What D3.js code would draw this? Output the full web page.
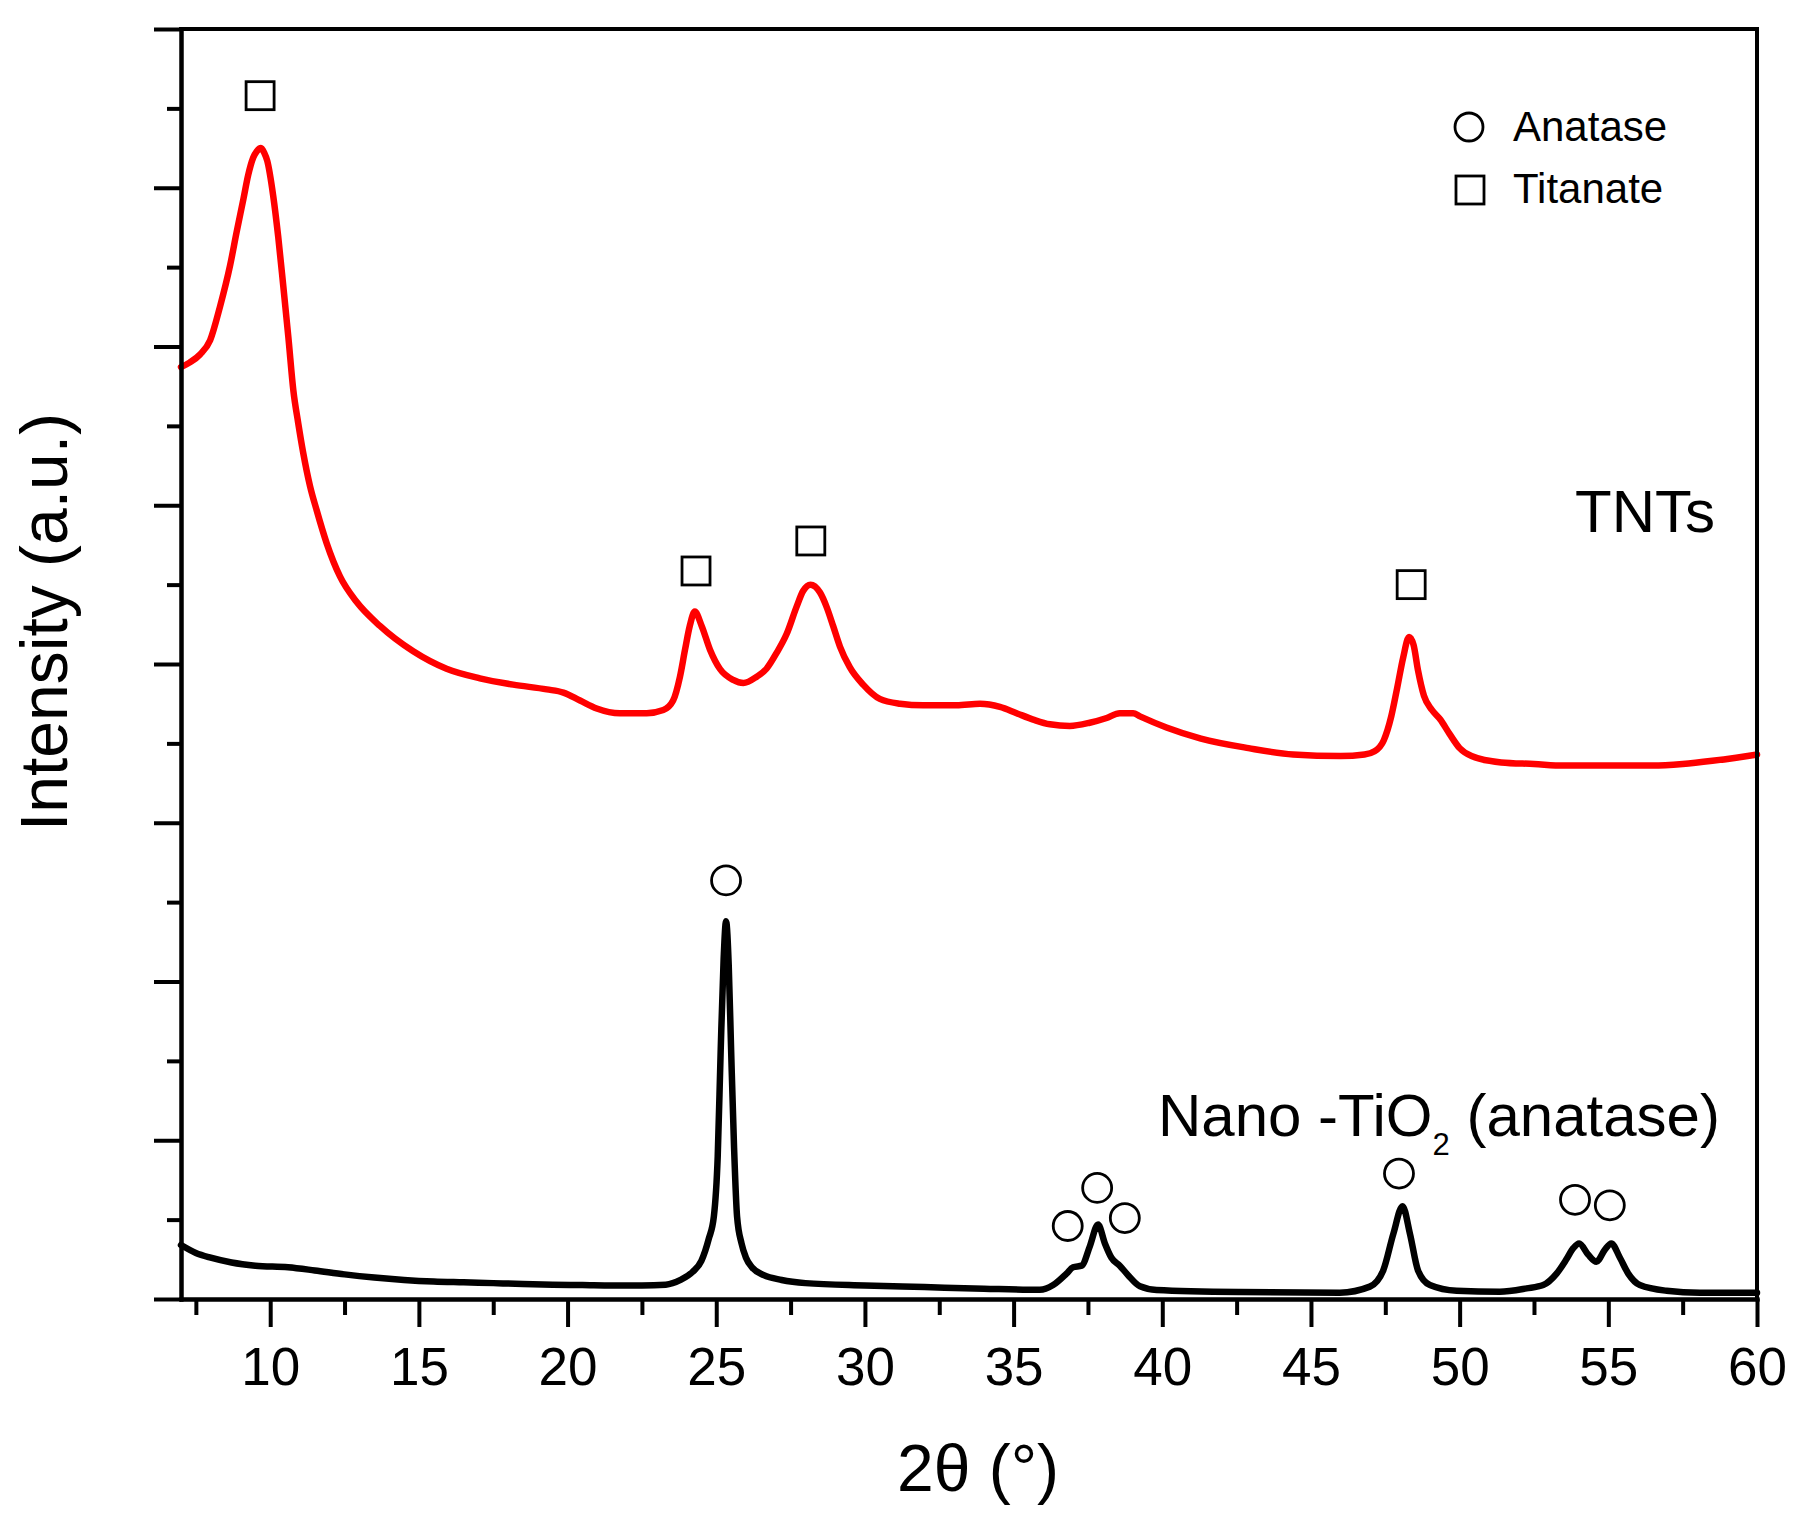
<!DOCTYPE html>
<html>
<head>
<meta charset="utf-8">
<script src="https://cdn.jsdelivr.net/npm/d3@7"></script>
<style>
  body { margin: 0; background: #fff; }
  svg { display: block; font-family: "Liberation Sans", Arial, sans-serif; }
</style>
</head>
<body>
<svg id="chart_svg"></svg>
<script>
// TNTs pattern (red)
var tntTheta = [7.0, 7.3, 7.64, 7.98, 8.31, 8.65, 8.87, 9.10, 9.26, 9.43, 9.55, 9.69, 9.80, 9.90,
    10.10, 10.27, 10.44, 10.61, 10.78, 10.94, 11.11, 11.34, 11.56, 11.90, 12.35, 12.91, 13.69,
    14.81, 15.93, 17.05, 18.17, 19.30, 19.86, 20.42, 20.98, 21.76, 22.66, 23.22, 23.55, 23.78,
    23.95, 24.11, 24.28, 24.51, 24.79, 25.12, 25.57, 25.91, 26.36, 26.69, 27.03, 27.37, 27.70,
    27.92, 28.17, 28.49, 28.71, 28.93, 29.16, 29.49, 29.94, 30.50, 31.18, 31.96, 33.08, 33.87,
    34.54, 35.10, 35.66, 36.22, 36.89, 37.56, 38.13, 38.57, 39.02, 39.25, 40.14, 41.30, 42.90,
    44.40, 46.00, 46.80, 47.14, 47.45, 47.70, 47.90, 48.10, 48.30, 48.45, 48.60, 48.80, 49.07,
    49.35, 49.66, 50.00, 50.40, 51.40, 52.50, 53.50, 54.50, 55.50, 56.50, 57.50, 58.50, 59.30, 60.00];
var tntIntensity = [5.87, 5.90, 5.95, 6.04, 6.25, 6.51, 6.72, 6.93, 7.08, 7.19, 7.23, 7.25, 7.22, 7.17,
    6.95, 6.69, 6.38, 6.06, 5.72, 5.52, 5.33, 5.12, 4.97, 4.76, 4.55, 4.39, 4.24,
    4.08, 3.97, 3.91, 3.87, 3.84, 3.82, 3.77, 3.72, 3.69, 3.69, 3.71, 3.77, 3.92,
    4.09, 4.24, 4.33, 4.24, 4.09, 3.97, 3.90, 3.88, 3.92, 3.97, 4.07, 4.19, 4.36,
    4.46, 4.50, 4.45, 4.36, 4.24, 4.11, 3.98, 3.87, 3.78, 3.75, 3.74, 3.74, 3.75,
    3.73, 3.69, 3.65, 3.62, 3.61, 3.63, 3.66, 3.69, 3.69, 3.67, 3.60, 3.53, 3.47,
    3.43, 3.42, 3.43, 3.45, 3.52, 3.67, 3.85, 4.04, 4.17, 4.12, 3.96, 3.80, 3.71,
    3.65, 3.56, 3.47, 3.42, 3.38, 3.37, 3.36, 3.36, 3.36, 3.36, 3.37, 3.39, 3.41, 3.43];

// Nano-TiO2 anatase pattern (black)
var anaTheta = [7.0, 7.5, 8.0, 8.7, 9.5, 10.6, 11.5, 12.5, 13.5, 14.5, 15.5, 16.5, 17.5, 18.5, 19.5,
    20.5, 21.5, 22.5, 23.3, 23.8, 24.2, 24.5, 24.75, 24.92, 25.05, 25.15, 25.25, 25.33, 25.42,
    25.50, 25.60, 25.70, 25.85, 26.00, 26.20, 26.60, 27.20, 28.00, 30.00, 32.00, 34.00, 35.88,
    36.33, 36.78, 37.00, 37.29, 37.56, 37.84, 38.07, 38.29, 38.57, 38.85, 39.25, 39.81, 42.60,
    45.97, 46.98, 47.43, 47.77, 48.08, 48.33, 48.60, 49.00, 49.90, 51.35, 52.25, 52.81, 53.26,
    53.59, 53.82, 54.02, 54.32, 54.60, 54.88, 55.10, 55.39, 55.67, 56.06, 56.96, 58.08, 60.00];
var anaIntensity = [0.34, 0.29, 0.26, 0.23, 0.21, 0.20, 0.18, 0.155, 0.135, 0.12, 0.11, 0.105, 0.10, 0.095, 0.09,
    0.088, 0.085, 0.085, 0.09, 0.12, 0.17, 0.24, 0.38, 0.52, 0.90, 1.57, 2.15, 2.38, 2.10,
    1.57, 0.95, 0.52, 0.35, 0.26, 0.20, 0.15, 0.12, 0.10, 0.085, 0.075, 0.065, 0.058,
    0.088, 0.16, 0.20, 0.21, 0.33, 0.47, 0.35, 0.26, 0.21, 0.15, 0.08, 0.057, 0.044,
    0.04, 0.078, 0.18, 0.41, 0.585, 0.41, 0.18, 0.088, 0.052, 0.046, 0.067, 0.088, 0.16,
    0.25, 0.32, 0.35, 0.28, 0.235, 0.31, 0.35, 0.26, 0.16, 0.088, 0.052, 0.04, 0.04];

// phase markers
var titanateTheta = [9.66, 24.32, 28.18, 48.37];
var titanateY = [7.58, 4.586, 4.775, 4.50];
var anataseTheta = [25.33, 36.82, 37.81, 38.74, 47.96, 53.88, 55.05];
var anataseY = [2.637, 0.46, 0.70, 0.51, 0.79, 0.625, 0.59];

// ticks
var xMajorTicks = [10, 15, 20, 25, 30, 35, 40, 45, 50, 55, 60];
var xMinorTicks = [7.5, 12.5, 17.5, 22.5, 27.5, 32.5, 37.5, 42.5, 47.5, 52.5, 57.5];
var yMajorTicks = [0, 1, 2, 3, 4, 5, 6, 7, 8];
var yMinorTicks = [0.5, 1.5, 2.5, 3.5, 4.5, 5.5, 6.5, 7.5];

var legendNames = ["Anatase", "Titanate"];

var svgWidth = 1812, svgHeight = 1524;
var margin = { top: 29, right: 55, bottom: 225, left: 181 };
var chartWidth = svgWidth - margin.left - margin.right;
var chartHeight = svgHeight - margin.top - margin.bottom;

var svg = d3.select("#chart_svg")
    .attr("width", svgWidth)
    .attr("height", svgHeight);

var chart = svg.append("g")
    .attr("transform", `translate(${margin.left}, ${margin.top})`);

var xScale = d3.scaleLinear().domain([7, 60]).range([0, chartWidth]);
var yScale = d3.scaleLinear().domain([0, 8]).range([chartHeight, 0]);

// curves
function drawPattern(xs, ys, color) {
    var pts = xs.map((d, i) => ({ x: d, y: ys[i] }));
    var line = d3.line()
        .x(d => xScale(d.x))
        .y(d => yScale(d.y))
        .curve(d3.curveMonotoneX);
    chart.append("path")
        .datum(pts)
        .attr("d", line)
        .attr("fill", "none")
        .attr("stroke", color)
        .attr("stroke-width", 6.5)
        .attr("stroke-linejoin", "round")
        .attr("stroke-linecap", "round");
}
drawPattern(tntTheta, tntIntensity, "#ff0000");
drawPattern(anaTheta, anaIntensity, "#000000");

// minor ticks first, majors on top
var xMinor = chart.append("g")
    .attr("transform", `translate(0, ${chartHeight})`)
    .call(d3.axisBottom(xScale).tickValues(xMinorTicks).tickSize(16).tickSizeOuter(0).tickFormat(""));
var yMinor = chart.append("g")
    .call(d3.axisLeft(yScale).tickValues(yMinorTicks).tickSize(14).tickSizeOuter(0).tickFormat(""));

var xAxis = chart.append("g")
    .attr("class", "x-axis")
    .attr("transform", `translate(0, ${chartHeight})`)
    .call(d3.axisBottom(xScale).tickValues(xMajorTicks).tickSize(28).tickSizeOuter(0));
xAxis.selectAll("text")
    .attr("y", 48)
    .attr("dy", "0.71em")
    .attr("fill", "#000")
    .style("font-size", "53px")
    .style("font-family", "'Liberation Sans', Arial, sans-serif");

var yAxis = chart.append("g")
    .attr("class", "y-axis")
    .call(d3.axisLeft(yScale).tickValues(yMajorTicks).tickSize(27).tickSizeOuter(0).tickFormat(""));

[xMinor, yMinor, xAxis, yAxis].forEach(g => {
    g.selectAll("line").attr("stroke", "#000").attr("stroke-width", 4);
    g.select(".domain").attr("stroke", "#000").attr("stroke-width", 4).attr("stroke-linecap", "square");
});

// top and right frame
chart.append("line")
    .attr("x1", 0).attr("x2", chartWidth)
    .attr("y1", 0).attr("y2", 0)
    .attr("stroke", "#000").attr("stroke-width", 4).attr("stroke-linecap", "square");
chart.append("line")
    .attr("x1", chartWidth).attr("x2", chartWidth)
    .attr("y1", 0).attr("y2", chartHeight)
    .attr("stroke", "#000").attr("stroke-width", 4).attr("stroke-linecap", "square");

// phase markers
var sq = 28;
chart.selectAll("rect.titanate")
    .data(titanateTheta)
    .join("rect")
    .attr("class", "titanate")
    .attr("x", d => xScale(d) - sq / 2)
    .attr("y", (d, i) => yScale(titanateY[i]) - sq / 2)
    .attr("width", sq)
    .attr("height", sq)
    .attr("fill", "none")
    .attr("stroke", "#000")
    .attr("stroke-width", 2.8);

chart.selectAll("circle.anatase")
    .data(anataseTheta)
    .join("circle")
    .attr("class", "anatase")
    .attr("cx", d => xScale(d))
    .attr("cy", (d, i) => yScale(anataseY[i]))
    .attr("r", 14.5)
    .attr("fill", "none")
    .attr("stroke", "#000")
    .attr("stroke-width", 2.8);

// legend
svg.append("circle")
    .attr("cx", 1469).attr("cy", 127).attr("r", 14)
    .attr("fill", "none").attr("stroke", "#000").attr("stroke-width", 2.8);
svg.append("rect")
    .attr("x", 1456).attr("y", 176).attr("width", 28).attr("height", 28)
    .attr("fill", "none").attr("stroke", "#000").attr("stroke-width", 2.8);
svg.selectAll("text.legend")
    .data(legendNames)
    .join("text")
    .attr("class", "legend")
    .attr("x", 1513)
    .attr("y", (d, i) => 141 + i * 62)
    .style("font-size", "42px")
    .text(d => d);

// series labels
svg.append("text")
    .attr("x", 1575)
    .attr("y", 532)
    .style("font-size", "60px")
    .text("TNTs");

var nano = svg.append("text")
    .attr("x", 1158)
    .attr("y", 1136)
    .style("font-size", "60px");
nano.append("tspan").text("Nano -TiO");
nano.append("tspan").attr("dy", 19).style("font-size", "31px").text("2");
nano.append("tspan").attr("dy", -19).text(" (anatase)");

// axis titles
svg.append("text")
    .attr("x", 978)
    .attr("y", 1491)
    .style("text-anchor", "middle")
    .style("font-size", "66px")
    .text("2θ (°)");

svg.append("text")
    .attr("transform", "translate(67, 622) rotate(-90)")
    .style("text-anchor", "middle")
    .style("font-size", "66px")
    .text("Intensity (a.u.)");
</script>
</body>
</html>
